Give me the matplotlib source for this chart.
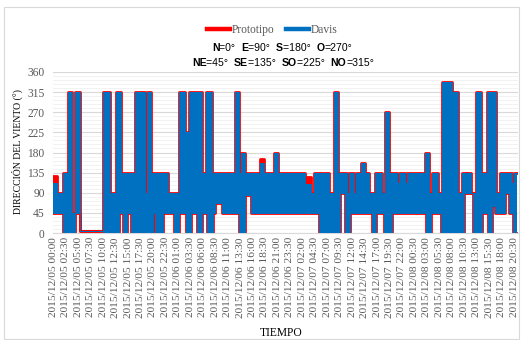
import numpy as np
import pandas as pd
import matplotlib
matplotlib.use("Agg")
import matplotlib.pyplot as plt
from matplotlib.lines import Line2D
from matplotlib.patches import Rectangle


# ── Datos (horas desde 2015/12/05 00:00) ──────────────────────────────────────
# la señal oscila muy rápido, así que se guarda la envolvente (máx / mín)
# por tramos
top_t = [0, 0.80, 1.95, 2.95, 3.82, 4.42, 5.42, 9.98, 11.45, 12.53,
         13.53, 16.47, 18.35, 18.82, 19.68, 23.09, 25.24, 26.45, 27.25, 29.8,
         30.6, 31.8, 36.49, 37.29, 37.69, 38.49, 41.5, 42.37, 44.38, 45.18,
         50.6, 51.8, 52.29, 55.3, 56.43, 57.17, 58.98, 59.38, 60.32, 60.78,
         61.85, 62.65, 63.45, 64.66, 66.0, 66.55, 67.47, 69.0, 69.48, 70.62,
         71.08, 74.64, 75.44, 75.98, 77.31, 78.11, 80.12, 81.33, 82.01, 82.81,
         83.13, 83.82, 84.94, 85.82, 87.15, 88.96, 89.64, 92.17, 92.51]
davis_top = [112, 90, 135, 315, 45, 315, 4, 315, 90, 315,
             135, 315, 90, 315, 135, 90, 315, 225, 315, 135,
             315, 135, 315, 135, 180, 135, 157, 135, 180, 135,
             110, 90, 135, 90, 315, 135, 90, 135, 90, 135,
             157, 135, 90, 135, 90, 270, 135, 112, 135, 112,
             135, 180, 90, 135, 90, 337, 315, 90, 135, 90,
             135, 90, 315, 135, 315, 90, 135, 112, 135]
proto_top = [127, 90, 135, 315, 45, 315, 4, 315, 90, 315,
             135, 315, 90, 315, 135, 90, 315, 225, 315, 135,
             315, 135, 315, 135, 180, 135, 166, 135, 180, 135,
             125, 90, 135, 90, 315, 135, 90, 135, 90, 135,
             157, 135, 90, 135, 90, 270, 135, 125, 135, 122,
             135, 180, 90, 135, 90, 337, 315, 90, 135, 90,
             135, 90, 315, 135, 315, 90, 135, 125, 135]

bot_t = [0, 1.95, 4.42, 5.42, 9.98, 13.13, 14.0, 14.86, 15.54, 20.02,
         20.48, 22.03, 24.3, 25.24, 26.65, 27.65, 28.8, 29.8, 30.8, 32.13,
         32.47, 33.82, 37.29, 38.49, 39.7, 53.29, 57.63, 58.63, 59.64, 64.0,
         64.8, 66.35, 68.0, 74.78, 75.78, 77.79, 82.47, 84.28, 86.14, 87.29,
         88.09, 88.69, 90.7, 91.5, 92.31]
davis_bot = [45, 0, 45, 4, 0, 45, 0, 45, 0, 45,
             0, 45, 0, 45, 0, 45, 0, 45, 0, 45,
             68, 45, 0, 85, 45, 0, 90, 0, 45, 0,
             45, 0, 45, 0, 45, 0, 90, 0, 45, 0,
             60, 45, 90, 45, 0]
proto_bot = list(davis_bot)

t_end = 93.17

tick_start = "2015-12-05 00:00"
n_ticks = 38

COLORS = {
    "proto": "#FF0000",
    "davis": "#0070C0",
    "text":  "#595959",
    "grid":  "#D9D9D9",
    "minor": "#F0F0F0",
}
SERIF = ["Liberation Serif", "DejaVu Serif"]
SANS = ["Liberation Sans", "DejaVu Sans"]


def step_at(t, v, x):
    i = np.searchsorted(t, x, side="right") - 1
    return np.asarray(v, dtype=float)[i]


def rich_line(fig, x_center, y, parts, size):
    """Escribe una línea mezclando negrita y normal, centrada en x_center."""
    renderer = fig.canvas.get_renderer()
    texts, widths = [], []
    for s, bold in parts:
        t = fig.text(0, y, s, fontsize=size, family=SANS, color="#000000",
                     fontweight="bold" if bold else "normal", va="center")
        texts.append(t)
        widths.append(t.get_window_extent(renderer).width)
    W = fig.get_figwidth() * fig.dpi
    x = x_center * W - sum(widths) / 2
    for t, w in zip(texts, widths):
        t.set_x(x / W)
        x += w


grid_x = np.append(np.union1d(top_t, bot_t), t_end)
d_hi = step_at(top_t, davis_top, grid_x)
d_lo = step_at(bot_t, davis_bot, grid_x)
p_hi = step_at(top_t, proto_top, grid_x)
p_lo = step_at(bot_t, proto_bot, grid_x)

fig = plt.figure(figsize=(5.23, 3.40), dpi=100)
fig.patch.set_facecolor("white")
ax = fig.add_axes([53 / 523, 1 - 233 / 340, 465 / 523, 161 / 340])

# Prototipo (rojo) debajo, Davis (azul) encima
ax.fill_between(grid_x, p_lo, p_hi, step="post", color=COLORS["proto"], lw=0, zorder=2)
ax.plot(grid_x, p_hi, drawstyle="steps-post", color=COLORS["proto"], lw=2.0, zorder=2)
ax.plot(grid_x, p_lo, drawstyle="steps-post", color=COLORS["proto"], lw=2.0, zorder=2)
ax.fill_between(grid_x, d_lo, d_hi, step="post", color=COLORS["davis"], lw=0, zorder=3)
ax.plot(grid_x, d_hi, drawstyle="steps-post", color=COLORS["davis"], lw=0.7, zorder=3)
ax.plot(grid_x, d_lo, drawstyle="steps-post", color=COLORS["davis"], lw=0.7, zorder=3)

ax.set_xlim(-0.06, 93.3)
ax.set_ylim(0, 360)
ax.set_yticks(np.arange(0, 361, 45))
ax.set_yticks(np.arange(0, 361, 9), minor=True)
ax.grid(True, which="major", axis="y", color=COLORS["grid"], lw=0.8, zorder=0)
ax.grid(True, which="minor", axis="y", color=COLORS["minor"], lw=0.6, zorder=0)
ax.set_axisbelow(True)

tick_times = pd.date_range(tick_start, periods=n_ticks, freq="150min")
ax.set_xticks(np.arange(n_ticks) * 2.5)
ax.set_xticklabels([t.strftime("%Y/%m/%d %H:%M") for t in tick_times],
                   rotation=90, family=SERIF, fontsize=8.2, color=COLORS["text"])
for lab in ax.get_yticklabels():
    lab.set_family(SERIF)
ax.tick_params(axis="y", labelsize=8.3, labelcolor=COLORS["text"], length=0, pad=6)
ax.tick_params(axis="x", length=0, pad=3)
ax.tick_params(which="minor", length=0)

for side in ["top", "right", "left"]:
    ax.spines[side].set_visible(False)
ax.spines["bottom"].set_color(COLORS["grid"])

fig.text(17 / 523, 1 - 152 / 340, "DIRECCIÓN DEL VIENTO (°)", rotation=90,
         ha="center", va="center", family=SERIF, fontsize=7.0, color="#000000")
fig.text(281 / 523, 1 - 333 / 340, "TIEMPO", ha="center", va="center",
         family=SERIF, fontsize=8.3, color="#000000")

handles = [Line2D([], [], color=COLORS["proto"], lw=3.2),
           Line2D([], [], color=COLORS["davis"], lw=3.2)]
leg = fig.legend(handles, ["Prototipo", "Davis"], loc="center",
                 bbox_to_anchor=(272 / 523, 1 - 30 / 340), ncol=2, frameon=False,
                 handlelength=2.0, handletextpad=0.15, columnspacing=1.0,
                 prop={"family": SERIF, "size": 8.3})
for t in leg.get_texts():
    t.set_color(COLORS["text"])

rich_line(fig, 282 / 523, 1 - 48 / 340,
          [("N", True), ("=0°  ", False), ("E", True), ("=90°  ", False),
           ("S", True), ("=180°  ", False), ("O", True), ("=270°", False)], 7.6)
rich_line(fig, 283 / 523, 1 - 63 / 340,
          [("NE", True), ("=45°  ", False), ("SE", True), ("=135°  ", False),
           ("SO", True), ("=225°  ", False), ("NO", True), ("=315°", False)], 7.6)

fig.patches.append(Rectangle((4 / 523, 1 / 340), 515 / 523, 332 / 340,
                             transform=fig.transFigure, fill=False,
                             edgecolor=COLORS["grid"], lw=0.8))

fig.savefig("out.png", dpi=100)
